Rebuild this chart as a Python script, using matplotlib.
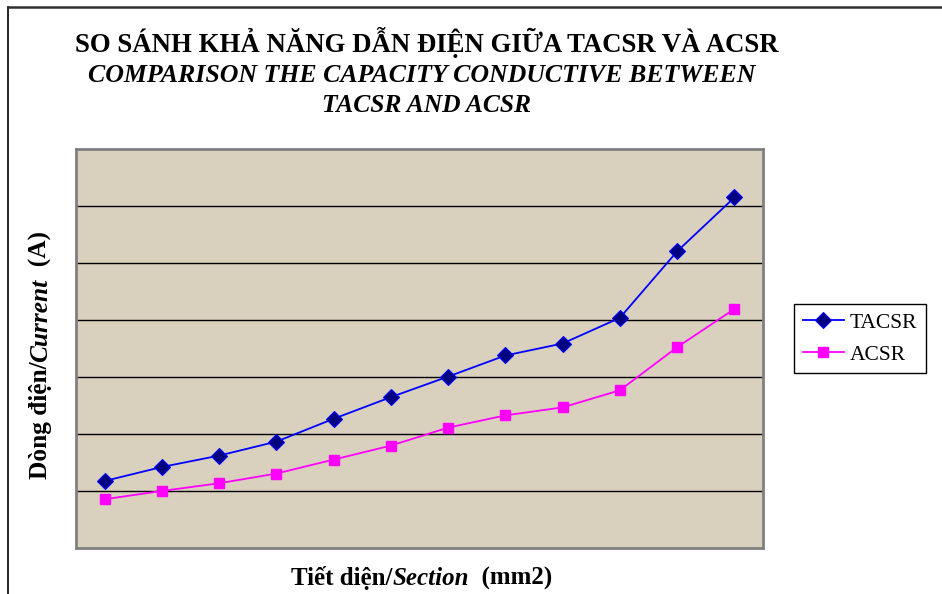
import matplotlib.pyplot as plt
import numpy as np

# Data (current in A; section categories unlabeled)
sections = list(range(1, 13))
tacsr = [235, 284, 324, 373, 453, 529, 601, 675, 717, 807, 1040, 1229]
acsr = [171, 200, 227, 261, 310, 359, 422, 465, 493, 553, 704, 838]

W, H = 942, 594
fig = plt.figure(figsize=(W / 100, H / 100), dpi=100)
plt.rcParams['font.family'] = ['Liberation Serif', 'DejaVu Serif']

# outer frame (left + top)
fig.add_artist(plt.Line2D([8 / W, 8 / W], [0, 1 - 7 / H], color='black', lw=1.2))
fig.add_artist(plt.Line2D([8 / W, 1], [1 - 7 / H, 1 - 7 / H], color='#303030', lw=1.8))

left, right, top, bottom = 76, 763, 148.7, 548
ax = fig.add_axes([left / W, 1 - bottom / H, (right - left) / W, (bottom - top) / H])
ax.set_facecolor('#D9D0BD')

x = np.arange(len(sections))
ax.plot(x, tacsr, color='#0000FF', lw=1.3, marker='D', markersize=8,
        markerfacecolor='#000080', markeredgecolor='#0000FF', markeredgewidth=0.8, label='TACSR')
ax.plot(x, acsr, color='#FF00FF', lw=1.3, marker='s', markersize=7,
        markerfacecolor='#FF00FF', markeredgecolor='#FF00FF', label='ACSR')

ax.set_xlim(-0.5, len(sections) - 0.5)
ax.set_ylim(0, 1400)
ax.set_yticks(range(200, 1400, 200))
ax.set_xticks([])
ax.tick_params(axis='y', length=0, labelleft=False)
ax.grid(axis='y', color='black', lw=1)
ax.set_axisbelow(True)
for s in ax.spines.values():
    s.set_color('#808080')
    s.set_linewidth(2)

leg = ax.legend(loc='upper left', bbox_to_anchor=(794 / W, 1 - 304 / H), bbox_transform=fig.transFigure,
                fancybox=False, framealpha=1, edgecolor='black', fontsize=15.5, handlelength=1.9,
                borderpad=0.4, labelspacing=0.55, handletextpad=0.3, borderaxespad=0)
leg.get_frame().set_linewidth(1)

# titles
fig.text(427 / W, 1 - 42 / H, 'SO SÁNH KHẢ NĂNG DẪN ĐIỆN GIỮA TACSR VÀ ACSR',
         ha='center', va='center', fontsize=19.3, fontweight='bold')
fig.text(422 / W, 1 - 75 / H, 'COMPARISON THE CAPACITY CONDUCTIVE BETWEEN',
         ha='center', va='center', fontsize=18.6, fontweight='bold', style='italic')
fig.text(426 / W, 1 - 105 / H, 'TACSR AND ACSR',
         ha='center', va='center', fontsize=18.4, fontweight='bold', style='italic')


def mixed_text(parts, cx, cy, rotation=0, size=18):
    # draw bold text pieces of different styles one after another, sharing a baseline
    renderer = fig.canvas.get_renderer()
    texts = []
    for s, st in parts:
        t = fig.text(0, 0, s, fontsize=size, fontweight='bold', style=st,
                     rotation=rotation, ha='left', va='baseline', rotation_mode='anchor')
        texts.append(t)
    widths = []
    for t in texts:
        bb = t.get_window_extent(renderer)
        widths.append(bb.width if rotation == 0 else bb.height)
    total = sum(widths)
    pos = -total / 2
    for t, w in zip(texts, widths):
        if rotation == 0:
            t.set_position(((cx + pos) / W, 1 - cy / H))
        else:
            t.set_position((cx / W, 1 - (cy - pos) / H))
        pos += w


mixed_text([('Tiết diện/', 'normal'), ('Section', 'italic'), ('  (mm2)', 'normal')], 422, 585, size=18)
mixed_text([('Dòng điện/', 'normal'), ('Current', 'italic'), ('  (A)', 'normal')], 47, 355, rotation=90, size=18.3)

fig.savefig('out.png', dpi=100)
